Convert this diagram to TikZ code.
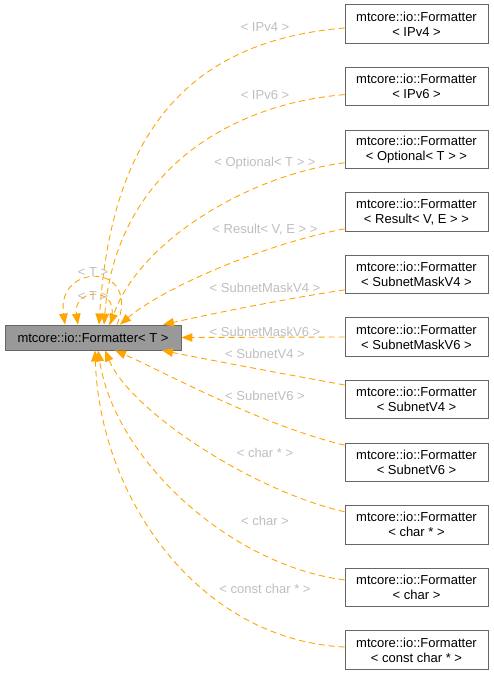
\documentclass[tikz,border=0pt]{standalone}
\usepackage{fontspec}
\setmainfont{Liberation Sans}
\usepackage{tikz}
\usetikzlibrary{arrows.meta, positioning, calc}
\definecolor{EdgeOrange}{HTML}{FFA500}
\definecolor{LabelGray}{HTML}{BEBEBE}
\definecolor{BoxBorder}{HTML}{666666}
\definecolor{BaseFill}{HTML}{999999}
\tikzset{
  fmtbox/.style={draw=BoxBorder, fill=white, line width=0.8pt, minimum width=143pt,
                 minimum height=38.5pt, inner sep=0pt, align=center,
                 font=\fontsize{13}{15}\selectfont},
  basebox/.style={draw=BoxBorder, fill=BaseFill, line width=0.8pt, minimum width=176pt,
                  minimum height=25pt, inner sep=0pt, font=\fontsize{13}{15}\selectfont},
  edgelabel/.style={inner sep=0pt, text=LabelGray, font=\fontsize{13}{15}\selectfont},
  inherit/.style={draw=EdgeOrange, line width=0.9pt, dash pattern=on 6pt off 4pt,
                  -{Triangle[length=11pt, width=8.5pt]}}
}
\begin{document}
\begin{tikzpicture}[x=1pt, y=-1pt]
  \useasboundingbox (0,0) rectangle (494,676);
  % base template
  \node[basebox] (main) at (93,337.5) {mtcore::io::Formatter< T >};
  % specialisations, one per row
  \foreach \i/\name/\arg in {0/IPv4/{< IPv4 >}, 1/IPv6/{< IPv6 >}, 2/Optional/{< Optional< T > >},
      3/Result/{< Result< V, E > >}, 4/MaskVfour/{< SubnetMaskV4 >}, 5/MaskVsix/{< SubnetMaskV6 >},
      6/SubnetVfour/{< SubnetV4 >}, 7/SubnetVsix/{< SubnetV6 >}, 8/CharPtr/{< char * >},
      9/Char/{< char >}, 10/ConstCharPtr/{< const char * >}} {
    \node[fmtbox] (fmt\name) at (416.5, 24+62.6*\i) {mtcore::io::Formatter\\\arg};
  }
  % edge labels
  \foreach \name/\y/\arg in {IPv4/27/{< IPv4 >}, IPv6/95/{< IPv6 >}, Optional/163/{< Optional< T > >},
      Result/230/{< Result< V, E > >}, MaskVfour/288/{< SubnetMaskV4 >}, MaskVsix/332/{< SubnetMaskV6 >},
      SubnetVfour/354/{< SubnetV4 >}, SubnetVsix/396/{< SubnetV6 >}, CharPtr/453/{< char * >},
      Char/521/{< char >}, ConstCharPtr/589/{< const char * >}} {
    \node[edgelabel] (lbl\name) at (265,\y) {\arg};
  }
  % curved edges into the base template
  \foreach \name/\sy/\cax/\cay/\cbx/\cby/\anc/\ex in {
      IPv4/-4/200/40/112/120/north/6, IPv6/-8/220/105/115/180/north/11,
      Optional/-13.5/250/175/140/240/north/17, Result/-17/260/245/160/290/north/27,
      MaskVfour/-15.5/290/298/220/312/north/70, SubnetVfour/14.6/290/375/220/362/south/69,
      SubnetVsix/17/260/425/160/370/south/22, CharPtr/13/250/490/130/410/south/12,
      Char/7.4/230/565/115/460/south/5, ConstCharPtr/3/200/640/100/500/south/2} {
    \draw[inherit] ([yshift=\sy pt]fmt\name.west) .. controls (\cax,\cay) and (\cbx,\cby) .. ([xshift=\ex pt]main.\anc);
  }
  \draw[inherit] (fmtMaskVsix.west) -- (main.east);
  % self loops
  \draw[inherit] ([xshift=24pt]main.north) .. controls (142,262) and (56,262) .. ([xshift=-28pt]main.north);
  \node[edgelabel] (lblLoopOuter) at (93,272) {< T >};
  \draw[inherit] ([xshift=16pt]main.north) .. controls (126,286) and (72,286) .. ([xshift=-15pt]main.north);
  \node[edgelabel] (lblLoopInner) at (93,296) {< T >};
\end{tikzpicture}
\end{document}
